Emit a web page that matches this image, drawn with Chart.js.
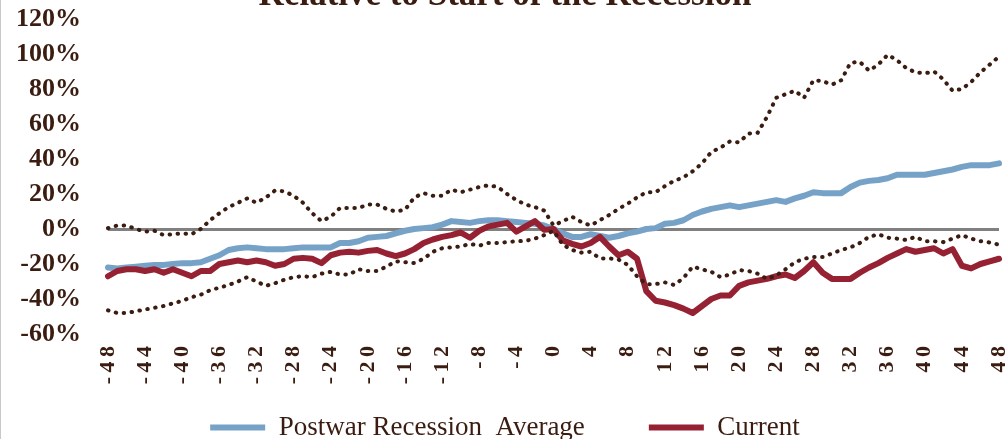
<!DOCTYPE html>
<html lang="en">
<head>
  <meta charset="UTF-8" />
  <title>Relative to Start of the Recession</title>
  <script src="https://cdn.jsdelivr.net/npm/chart.js"></script>
  <style>
    html, body {
      margin: 0;
      padding: 0;
      background: #fff;
    }
    #frame {
      position: relative;
      width: 1008px;
      height: 439px;
      overflow: hidden;
      box-sizing: border-box;
      border-left: 1px solid #c8c8c8;
    }
    #wrap {
      position: absolute;
      left: 0;
      top: -25px;
      width: 1008px;
      height: 476px;
    }
  </style>
</head>
<body>
  <div id="frame">
    <div id="wrap"><canvas id="grafico"></canvas></div>
  </div>

  <script>
    // months relative to start of recession
    const meses = [-48,-47,-46,-45,-44,-43,-42,-41,-40,-39,-38,-37,-36,-35,-34,-33,-32,-31,-30,-29,-28,-27,-26,-25,
      -24,-23,-22,-21,-20,-19,-18,-17,-16,-15,-14,-13,-12,-11,-10,-9,-8,-7,-6,-5,-4,-3,-2,-1,
      0,1,2,3,4,5,6,7,8,9,10,11,12,13,14,15,16,17,18,19,20,21,22,23,24,
      25,26,27,28,29,30,31,32,33,34,35,36,37,38,39,40,41,42,43,44,45,46,47,48];

    const yTicks = [-60, -40, -20, 0, 20, 40, 60, 80, 100, 120];

    const media = [-22,-22.5,-22,-21.5,-21,-20.5,-20.5,-20,-19.5,-19.5,-19,-17,-15,-12,-11,-10.5,-11,-11.5,-11.5,-11.5,-11,-10.5,-10.5,-10.5,
      -10.5,-8,-8,-7,-5,-4.5,-4,-2.5,-1,0,0.5,1,2.5,4.5,4,3.5,4.5,5,5,4.5,4,3.5,3,2,
      0,-2.5,-4.5,-4.5,-3,-4,-5,-4,-2.5,-1.5,0,0.5,3,3.5,5,8,10,11.5,12.5,13.5,12.5,13.5,14.5,15.5,16.5,
      15.5,17.5,19,21,20.5,20.5,20.5,24,26.5,27.5,28,29,31,31,31,31,32,33,34,35.5,36.5,36.5,36.5,37.5];

    const atual = [-27,-24,-23,-23,-24,-23,-25,-23,-25,-27,-24,-24,-20,-19,-18,-19,-18,-19,-21,-20,-17,-16.5,-17,-19.5,
      -15,-13.5,-13,-13.5,-12.5,-12,-14,-15.5,-14,-11.5,-8,-6,-4.5,-3.5,-2,-5,-1,1.5,2.5,3.5,-1.5,1.5,4.5,-0.5,
      0,-6.5,-8.5,-10,-8,-4.5,-10,-15,-13,-17,-35.5,-41,-42,-43.5,-45.5,-48,-44,-40,-38,-38,-32.5,-30.5,-29.5,-28.5,-27,
      -26,-28,-24,-19,-25,-28.5,-28.5,-28.5,-25,-22,-19.5,-16.5,-14,-11.5,-13,-12,-11,-14,-11.5,-21,-22.5,-20,-18.5,-17];

    const maximo = [0.5,2,2,0,-1.5,-1,-3.5,-3,-2.5,-3,0,5,9,12.5,15,17.5,15,18,22,21.5,19,15,9,4.5,
      7,12,12,12,14,14,11.5,10,11,18,20.5,19,19,22.5,21,22.5,24,25,24,20,16.5,14,12.5,10.5,
      2,4.5,7,4,2,5,8,11.5,14.5,18,21,21,24.5,27.5,29.5,33,37.5,44,46.5,50,49.5,54.5,55,64,75,
      77,79,75,85,84.5,82.5,85,95,95.5,90.5,94,99.5,96.5,92,89.5,89,90,85.5,79,80,84,89.5,94,98.5];

    const minimo = [-46.5,-48,-48,-47,-46,-45,-44,-42.5,-41,-39,-37.5,-35,-33.5,-32,-30,-27.5,-30,-32.5,-31,-29,-27.5,-27,-27.5,-25.5,
      -24.5,-26,-26,-23,-24,-24,-21.5,-18.5,-19,-19.5,-17,-13,-11,-10.5,-10,-8.5,-9.5,-8,-8,-7.5,-7,-6.8,-5.5,-3.5,
      -1,-9,-12,-13.5,-13,-16.8,-16.8,-17.5,-20.5,-27,-31.5,-31.5,-30.5,-32,-28,-21.5,-23,-24.5,-27.5,-26,-23.5,-24,-25.5,-28.5,-26.5,
      -23,-19,-17,-16,-16,-14,-12,-10.5,-8,-4.5,-3,-5,-5.5,-6.3,-4.5,-7,-7,-7.5,-5.5,-3.5,-5.5,-7,-7.7,-9];

    const marrom = '#3b1c10';
    const serif = "'Liberation Serif', 'DejaVu Serif', serif";

    const pontilhado = {
      borderColor: marrom,
      borderWidth: 4,
      borderDash: [0.5, 7.5],
      borderCapStyle: 'round',
      pointRadius: 0,
      tension: 0,
      fill: false
    };

    // espaço extra entre os itens da legenda
    const folga = '\u00a0'.repeat(8);

    const ctx = document.getElementById('grafico').getContext('2d');
    new Chart(ctx, {
      type: 'line',
      data: {
        labels: meses,
        datasets: [
          Object.assign({ label: 'max', data: maximo, order: 0 }, pontilhado),
          Object.assign({ label: 'min', data: minimo, order: 0 }, pontilhado),
          {
            label: 'Postwar Recession  Average',
            data: media,
            borderColor: '#77a2c7',
            backgroundColor: '#77a2c7',
            borderWidth: 6,
            borderCapStyle: 'round',
            borderJoinStyle: 'round',
            pointRadius: 0,
            tension: 0,
            order: 2
          },
          {
            label: 'Current',
            data: atual,
            borderColor: '#952133',
            backgroundColor: '#952133',
            borderWidth: 6,
            borderCapStyle: 'round',
            borderJoinStyle: 'round',
            pointRadius: 0,
            tension: 0,
            order: 1
          }
        ]
      },
      options: {
        responsive: true,
        maintainAspectRatio: false,
        animation: false,
        layout: { padding: 0 },
        scales: {
          x: {
            grid: { display: false, drawTicks: false },
            border: { display: false },
            ticks: {
              autoSkip: false,
              minRotation: 90,
              maxRotation: 90,
              padding: 12,
              color: marrom,
              font: { family: serif, size: 22, weight: 'bold' },
              callback: (v, i) => (meses[i] % 4 === 0 ? String(meses[i]).split('').join('\u2009') : '')
            },
            afterFit: (s) => {
              s.height = 70;
              s.paddingLeft = 0;
              s.paddingRight = 10;
            }
          },
          y: {
            min: yTicks[0],
            max: yTicks[yTicks.length - 1],
            afterBuildTicks: (s) => { s.ticks = yTicks.map(v => ({ value: v })); },
            grid: {
              drawTicks: false,
              color: (c) => (c.tick && c.tick.value === 0 ? '#808080' : 'rgba(0,0,0,0)'),
              lineWidth: (c) => (c.tick && c.tick.value === 0 ? 3 : 0)
            },
            border: { display: false },
            ticks: {
              padding: 27,
              color: marrom,
              font: { family: serif, size: 26, weight: 'bold' },
              callback: (v) => v + '%'
            },
            afterFit: (s) => { s.width = 107; }
          }
        },
        plugins: {
          title: {
            display: true,
            text: 'Relative to Start of the Recession',
            color: marrom,
            font: { family: serif, size: 35, weight: 'bold' },
            padding: { top: 0, bottom: 2 }
          },
          legend: {
            position: 'bottom',
            labels: {
              usePointStyle: true,
              pointStyle: 'line',
              pointStyleWidth: 55,
              padding: 10,
              color: marrom,
              font: { family: serif, size: 27 },
              filter: (item) => item.text === 'Current' || item.text.indexOf('Postwar') === 0,
              sort: (a, b) => a.datasetIndex - b.datasetIndex,
              generateLabels: (chart) => {
                const base = Chart.defaults.plugins.legend.labels.generateLabels(chart);
                return base.map(it => {
                  if (it.text.indexOf('Postwar') === 0) it.text = it.text + folga;
                  return it;
                });
              }
            }
          },
          tooltip: { enabled: false }
        }
      }
    });
  </script>
</body>
</html>
